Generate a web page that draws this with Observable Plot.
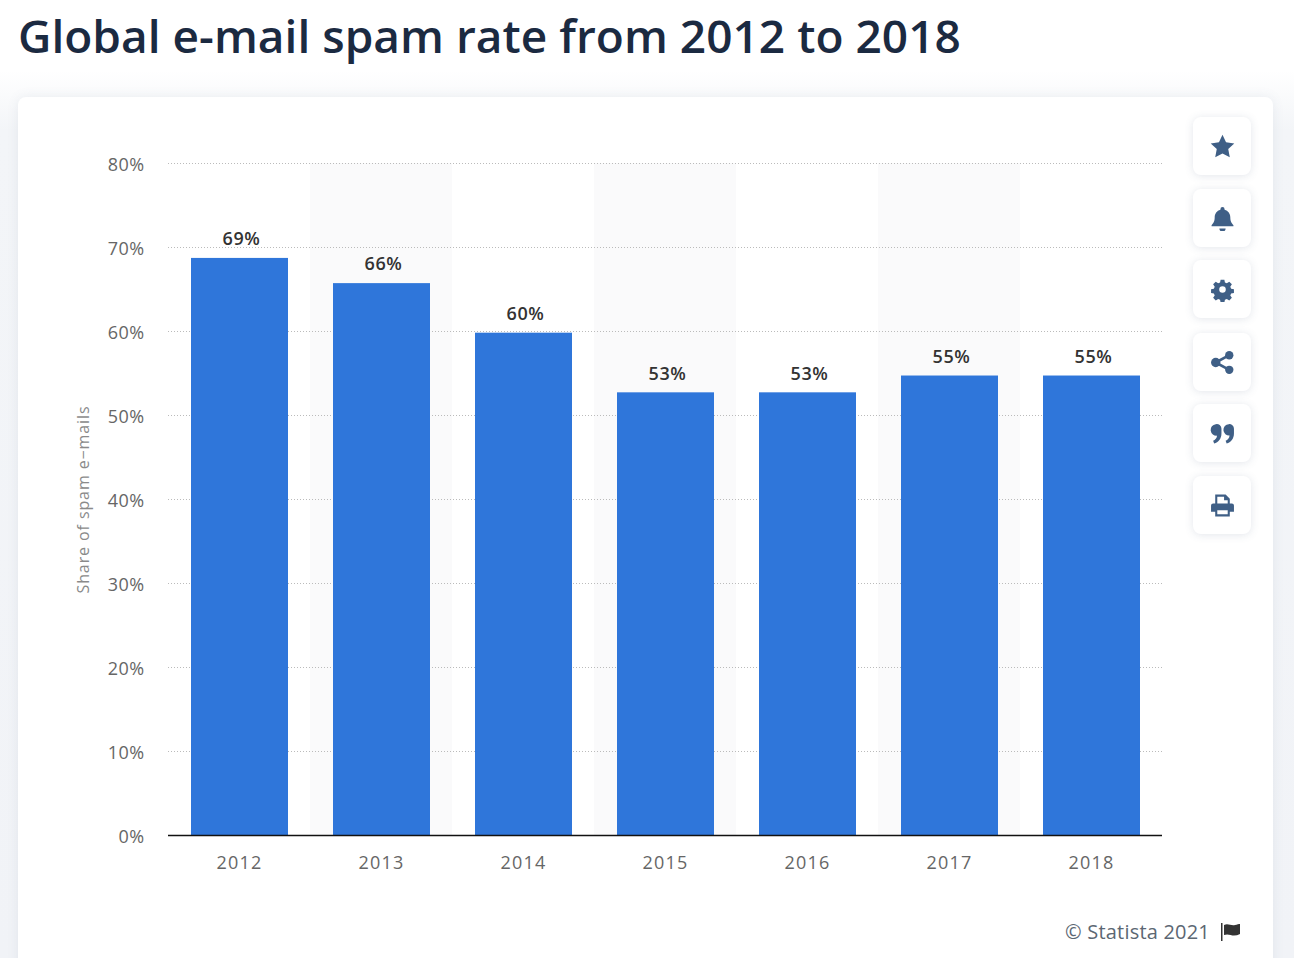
<!DOCTYPE html>
<html>
<head>
<meta charset="utf-8">
<script src="https://cdn.jsdelivr.net/npm/d3@7"></script>
<script src="https://cdn.jsdelivr.net/npm/@observablehq/plot@0.6"></script>
<style>
  html, body { margin: 0; padding: 0; width: 1294px; height: 958px; overflow: hidden; background: #fff; font-family: "Open Sans", sans-serif; }
  #bg { position: absolute; left: 0; top: 70px; width: 1294px; height: 888px; background: linear-gradient(to bottom, #ffffff 0, #f3f5f8 60px, #f1f3f7 100%); }
  #title { position: absolute; left: 18px; top: 4px; margin: 0; font-size: 46px; line-height: 62px; font-weight: 600; letter-spacing: 0.03px; color: #1b2a41; white-space: nowrap; }
  #card { position: absolute; left: 18px; top: 97px; width: 1255px; height: 880px; background: #fff; border-radius: 8px; box-shadow: 0 0 12px rgba(90,110,140,0.10); }
  #chart { position: absolute; left: 0; top: 0; }
  .btn { position: absolute; left: 1193px; width: 58px; height: 58px; background: #fff; border-radius: 8px; box-shadow: 0 1px 8px rgba(70,90,120,0.15); display: flex; align-items: center; justify-content: center; }
  .btn svg { width: 25px; height: 25px; fill: #3f5f86; }
  #credit { position: absolute; right: 84px; top: 919px; font-size: 20px; line-height: 26px; letter-spacing: 0.2px; color: #5c6773; white-space: nowrap; }
  #flag { position: absolute; left: 1220px; top: 922px; width: 22px; height: 20px; fill: #333; }
  .xticks text { letter-spacing: 1.2px; }
  .yticks text { letter-spacing: 0.4px; }
  .vals text { letter-spacing: 0.7px; }
  .ytitle text { letter-spacing: 0.9px; }
</style>
</head>
<body>
<div id="bg"></div>
<h1 id="title">Global e-mail spam rate from 2012 to 2018</h1>
<div id="card"></div>
<div id="chart"></div>
<div class="btn" style="top:117px"><svg viewBox="0 0 24 24"><path d="M12 .8l3.400 7.200 7.900 1-5.800 5.500 1.500 7.900L12 18.600l-7 3.800 1.500-7.900L.7 9l7.900-1z"/></svg></div>
<div class="btn" style="top:189px"><svg viewBox="0 0 24 24"><path d="M12 1a2 2 0 0 1 2 2v.6c3.500.9 5.500 3.900 5.500 7.400 0 4 1.500 5.500 3 7.500v1H1.500v-1c1.500-2 3-3.500 3-7.500 0-3.500 2-6.500 5.500-7.400V3a2 2 0 0 1 2-2zM9 21.500h6a3 3 0 0 1-6 0z"/></svg></div>
<div class="btn" style="top:260px"><svg viewBox="0 0 24 24"><path fill-rule="evenodd" d="M10 1.500h4l.6 3 2 .9 2.600-1.700 2.800 2.800-1.700 2.600.9 2 3 .6v4l-3 .6-.9 2 1.700 2.600-2.800 2.800-2.600-1.700-2 .9-.6 3h-4l-.6-3-2-.9-2.600 1.700-2.800-2.800 1.700-2.600-.9-2-3-.6v-4l3-.6.9-2-1.700-2.600 2.800-2.800 2.600 1.700 2-.9zM12 8.500a3.500 3.500 0 1 0 0 7 3.500 3.500 0 0 0 0-7z" transform="translate(1.200 1.200) scale(.9)"/></svg></div>
<div class="btn" style="top:333px"><svg viewBox="0 0 24 24"><circle cx="18.500" cy="5" r="4"/><circle cx="18.500" cy="19" r="4"/><circle cx="5.500" cy="12" r="4.500"/><path d="M5.500 12L18.500 5M5.500 12l13 7" stroke="#3f5f86" stroke-width="2.500"/></svg></div>
<div class="btn" style="top:404px"><svg viewBox="0 0 24 24"><path d="M5.500 3A4.500 4.500 0 0 1 11 7.500V12c0 5-3 8.500-7 9.500l-1-2.500c2-.8 3.500-2.300 3.800-5A5 5 0 1 1 5.500 3zM18 3a4.500 4.500 0 0 1 5 4.500V12c0 5-3 8.500-7 9.500l-1-2.500c2-.8 3.500-2.300 3.800-5A5 5 0 1 1 18 3z"/></svg></div>
<div class="btn" style="top:476px"><svg viewBox="0 0 24 24"><path fill-rule="evenodd" d="M5 1.500h10l4 4V10h2a2 2 0 0 1 2 2v6h-4v4.500H5V18H1v-6a2 2 0 0 1 2-2h2zM7 3.500V10h10V7h-3.500V3.500zM7 16.500v4h10v-4z"/></svg></div>
<div id="credit">© Statista 2021</div>
<svg id="flag" viewBox="0 0 22 20"><path d="M1 1h1.500v18H1z"/><path d="M4 3c4-2 7 1 11 0 2-.4 4-1 5-1v10c-2 1-4 1.500-6 1.500-3 0-6-2-10-.5z"/></svg>
<script>
const years = ["2012", "2013", "2014", "2015", "2016", "2017", "2018"];
const shares = [68.7, 65.7, 59.8, 52.7, 52.7, 54.7, 54.7];
const labels = ["69%", "66%", "60%", "53%", "53%", "55%", "55%"];
const shadedYears = ["2013", "2015", "2017"];
const yTicks = [0, 10, 20, 30, 40, 50, 60, 70, 80];
const yTitle = "Share of spam e\u2212mails";

const rows = years.map((year, i) => ({year, share: shares[i], label: labels[i]}));

const plot = Plot.plot({
  width: 1294,
  height: 958,
  marginLeft: 168,
  marginRight: 132,
  marginTop: 163,
  marginBottom: 123,
  style: {background: "transparent", fontFamily: "'Open Sans', sans-serif", overflow: "visible"},
  x: {domain: years, padding: 0, label: null},
  y: {domain: [0, 80], label: null},
  marks: [
    Plot.barY(shadedYears, {x: d => d, y1: 0, y2: 80, fill: "#fafafb"}),
    Plot.ruleY(yTicks.slice(1), {stroke: "#bbbbbb", strokeWidth: 1, strokeDasharray: "1 2"}),
    Plot.barY(rows, {x: "year", y: "share", fill: "#2f76da", insetLeft: 23, insetRight: 22}),
    Plot.ruleY([0], {stroke: "#111", strokeWidth: 1.500}),
    Plot.axisY({className: "yticks", ticks: yTicks, tickSize: 0, tickPadding: 24, dy: 2, tickFormat: d => d + "%", fontSize: 18, fill: "#666", label: null}),
    Plot.axisX({className: "xticks", tickSize: 0, tickPadding: 21, fontSize: 18, fill: "#666", label: null}),
    Plot.text(rows, {className: "vals", x: "year", y: "share", text: "label", dy: -19, dx: 2, fontSize: 18, fontWeight: 600, fill: "#333"}),
    Plot.text([yTitle], {className: "ytitle", frameAnchor: "left", textAnchor: "middle", rotate: -90, dx: -85, dy: 0, fontSize: 16, fill: "#8a8a8a"})
  ]
});
document.getElementById("chart").appendChild(plot);
</script>
</body>
</html>
